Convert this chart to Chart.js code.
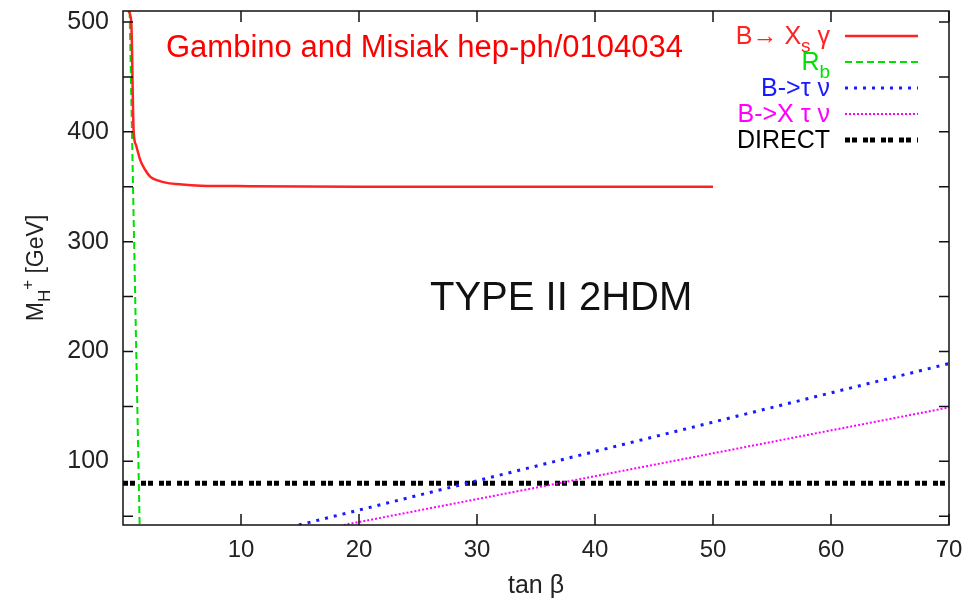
<!DOCTYPE html>
<html>
<head>
<meta charset="utf-8">
<script src="https://cdn.jsdelivr.net/npm/chart.js@4.4.1/dist/chart.umd.min.js"></script>
<style>
  html, body { margin: 0; padding: 0; background: #fff; }
  #wrap { width: 979px; height: 601px; }
</style>
</head>
<body>
<div id="wrap"><canvas id="hplus"></canvas></div>
<script>
// values (tan beta, M_H+ in GeV)
const bsgTanBeta = [0.45, 0.70, 0.90, 1.10, 1.47, 1.90, 2.32, 3.00, 3.73, 5.00, 6.60, 10.8, 20, 30, 40, 50];
const bsgMass    = [510, 500, 401, 388, 374, 365, 359, 355.5, 353.5, 352, 351, 350.5, 350, 350, 350, 350];
const rbTanBeta  = [0.56, 1.41];
const rbMass     = [510, 42];
const btnTanBeta = [14.9, 70];
const btnMass    = [42, 189];
const bxtnTanBeta = [18.7, 70];
const bxtnMass    = [42, 149];
const directTanBeta = [0, 70];
const directMass    = [80, 80];
const xTicks = [10, 20, 30, 40, 50, 60, 70];
const yTicks = [50, 100, 150, 200, 250, 300, 350, 400, 450, 500];

const FONT = "'Liberation Sans', Arial, sans-serif";
const pairs = (xs, ys) => xs.map((x, i) => ({x: x, y: ys[i]}));

// legend entries: pieces of text, sub = subscript
const legendItems = [
  [{t: 'B\u2192 X'}, {t: 's', sub: true}, {t: ' \u03b3'}],
  [{t: 'R'}, {t: 'b', sub: true}],
  [{t: 'B->\u03c4 \u03bd'}],
  [{t: 'B->X \u03c4 \u03bd'}],
  [{t: 'DIRECT'}]
];

function richWidth(ctx, segs, size, subSize) {
  let w = 0;
  segs.forEach(s => {
    ctx.font = (s.sub || s.sup ? subSize : size) + 'px ' + FONT;
    w += ctx.measureText(s.t).width;
  });
  return w;
}

function drawRich(ctx, segs, x, y, size, subSize, color) {
  ctx.fillStyle = color;
  ctx.textBaseline = 'alphabetic';
  ctx.textAlign = 'left';
  segs.forEach(s => {
    ctx.font = (s.sub || s.sup ? subSize : size) + 'px ' + FONT;
    let dy = s.sub ? size * 0.3 : (s.sup ? -size * 0.45 : 0);
    ctx.fillText(s.t, x, y + dy);
    x += ctx.measureText(s.t).width;
  });
}

const framePlugin = {
  id: 'frame',
  afterDraw(chart) {
    const ctx = chart.ctx;
    const a = chart.chartArea;
    const xs = chart.scales.x, ys = chart.scales.y;
    ctx.save();
    ctx.strokeStyle = '#111';
    ctx.lineWidth = 1.5;
    ctx.strokeRect(a.left, a.top, a.right - a.left, a.bottom - a.top);
    ctx.beginPath();
    yTicks.forEach(v => {
      const py = ys.getPixelForValue(v);
      ctx.moveTo(a.left, py); ctx.lineTo(a.left + 10, py);
      ctx.moveTo(a.right, py); ctx.lineTo(a.right - 10, py);
    });
    xTicks.forEach(v => {
      const px = xs.getPixelForValue(v);
      ctx.moveTo(px, a.bottom); ctx.lineTo(px, a.bottom - 11);
      ctx.moveTo(px, a.top); ctx.lineTo(px, a.top + 11);
    });
    ctx.stroke();

    // legend, right aligned text with line samples
    chart.data.datasets.forEach((ds, i) => {
      const ly = 36 + i * 26;
      const segs = legendItems[i];
      const w = richWidth(ctx, segs, 25, 19);
      drawRich(ctx, segs, 830 - w, ly + 8, 25, 19, ds.borderColor);
      ctx.beginPath();
      ctx.strokeStyle = ds.borderColor;
      ctx.lineWidth = ds.borderWidth;
      ctx.setLineDash(ds.borderDash || []);
      ctx.moveTo(845, ly); ctx.lineTo(918, ly);
      ctx.stroke();
      ctx.setLineDash([]);
    });

    // annotations
    ctx.fillStyle = '#ff0000';
    ctx.font = '31px ' + FONT;
    ctx.textAlign = 'left';
    ctx.fillText('Gambino and Misiak hep-ph/0104034', 166, 57);
    ctx.fillStyle = '#111';
    ctx.font = '40px ' + FONT;
    ctx.fillText('TYPE II 2HDM', 430, 310);

    // y axis title, rotated
    ctx.translate(43, 268);
    ctx.rotate(-Math.PI / 2);
    const ySegs = [{t: 'M'}, {t: 'H', sub: true}, {t: '+', sup: true}, {t: ' [GeV]'}];
    const yw = richWidth(ctx, ySegs, 23, 17);
    drawRich(ctx, ySegs, -yw / 2, 0, 23, 17, '#222');
    ctx.restore();
  }
};

new Chart(document.getElementById('hplus'), {
  type: 'line',
  data: {
    datasets: [
      {label: 'bsg', data: pairs(bsgTanBeta, bsgMass), borderColor: '#ff2222', borderWidth: 2.5,
       cubicInterpolationMode: 'monotone'},
      {label: 'Rb', data: pairs(rbTanBeta, rbMass), borderColor: '#00e000', borderWidth: 2, borderDash: [7, 4]},
      {label: 'btaunu', data: pairs(btnTanBeta, btnMass), borderColor: '#1a1aff', borderWidth: 3, borderDash: [3, 6]},
      {label: 'bxtaunu', data: pairs(bxtnTanBeta, bxtnMass), borderColor: '#ff00ff', borderWidth: 2, borderDash: [2, 2]},
      {label: 'direct', data: pairs(directTanBeta, directMass), borderColor: '#000000', borderWidth: 5, borderDash: [5, 2, 5, 6]}
    ]
  },
  options: {
    responsive: true,
    maintainAspectRatio: false,
    animation: false,
    elements: {point: {radius: 0}, line: {tension: 0}},
    layout: {padding: {top: 11, right: 30, left: 0, bottom: 0}},
    plugins: {legend: {display: false}, tooltip: {enabled: false}},
    scales: {
      x: {
        type: 'linear', min: 0, max: 70,
        grid: {display: false},
        border: {display: false},
        ticks: {stepSize: 10, padding: 3, color: '#222', font: {size: 24, family: FONT}},
        afterBuildTicks: s => { s.ticks = xTicks.map(v => ({value: v})); },
        afterFit: s => { s.height = 76; s.paddingLeft = 0; s.paddingRight = 0; },
        title: {display: true, text: 'tan \u03b2', color: '#222', font: {size: 25, family: FONT}, padding: {top: 0, bottom: 0}}
      },
      y: {
        type: 'linear', min: 42, max: 510,
        grid: {display: false},
        border: {display: false},
        ticks: {stepSize: 50, padding: 6, color: '#222', font: {size: 25, family: FONT},
                callback: v => (v % 100 === 0 ? v : '')},
        afterBuildTicks: s => { s.ticks = yTicks.filter(v => v % 100 === 0).map(v => ({value: v})); },
        afterFit: s => { s.width = 123; s.paddingTop = 0; s.paddingBottom = 0; }
      }
    }
  },
  plugins: [framePlugin]
});
</script>
</body>
</html>
